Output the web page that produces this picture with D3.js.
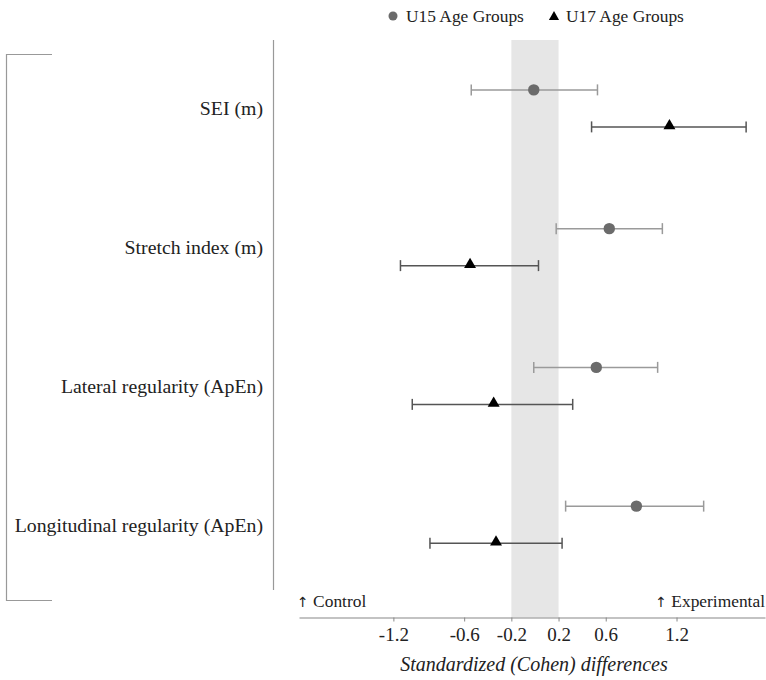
<!DOCTYPE html>
<html><head><meta charset="utf-8">
<script src="https://cdn.jsdelivr.net/npm/d3@7"></script>
<style>body{margin:0;background:#fff}svg{display:block}text{font-family:"Liberation Serif","Times New Roman",serif;fill:#222}</style>
</head><body><svg id="c" width="766" height="680"></svg>
<script>
const categories = ["SEI (m)", "Stretch index (m)", "Lateral regularity (ApEn)", "Longitudinal regularity (ApEn)"];
const u15Value = [-0.01, 0.63, 0.52, 0.86];
const u15Low   = [-0.54, 0.18, -0.01, 0.26];
const u15High  = [0.53, 1.08, 1.04, 1.43];
const u17Value = [1.14, -0.55, -0.35, -0.33];
const u17Low   = [0.48, -1.14, -1.04, -0.89];
const u17High  = [1.79, 0.03, 0.32, 0.23];
const tickValues = [-1.2, -0.6, -0.2, 0.2, 0.6, 1.2];
const trivialBand = [-0.2, 0.2];

const svg = d3.select("#c");
const x = d3.scaleLinear().domain([-2, 1.95]).range([299, 765]);
const y = d3.scaleBand().domain(categories).range([39, 594]);
const off = 18.5;
const axisY = 617.5;

svg.append("rect").attr("x", x(trivialBand[0])).attr("width", x(trivialBand[1]) - x(trivialBand[0]))
  .attr("y", 40).attr("height", axisY - 40).attr("fill", "#e6e6e6");

svg.append("line").attr("x1", 273.5).attr("x2", 273.5).attr("y1", 40).attr("y2", 590)
  .attr("stroke", "#999").attr("stroke-width", 1.2);

svg.append("path").attr("d", "M52,54.5H6.5V600.5H52").attr("fill", "none").attr("stroke", "#999").attr("stroke-width", 1.2);

svg.selectAll("text.cat").data(categories).enter().append("text").attr("class", "cat")
  .attr("x", 263).attr("y", d => y(d) + y.bandwidth() / 2).attr("dy", "0.35em")
  .attr("text-anchor", "end").attr("font-size", 19.8).text(d => d);

function series(lo, hi, dy, barColor) {
  const g = svg.append("g");
  categories.forEach((c, i) => {
    const yy = y(c) + y.bandwidth() / 2 + dy;
    g.append("line").attr("x1", x(lo[i])).attr("x2", x(hi[i])).attr("y1", yy).attr("y2", yy)
      .attr("stroke", barColor).attr("stroke-width", 1.5);
    [lo[i], hi[i]].forEach(v => g.append("line").attr("x1", x(v)).attr("x2", x(v))
      .attr("y1", yy - 5.5).attr("y2", yy + 5.5).attr("stroke", barColor).attr("stroke-width", 1.5));
  });
  return g;
}
const g15 = series(u15Low, u15High, -off, "#9a9a9a");
categories.forEach((c, i) => {
  g15.append("circle").attr("cx", x(u15Value[i])).attr("cy", y(c) + y.bandwidth() / 2 - off).attr("r", 5.7).attr("fill", "#6b6b6b");
});
const g17 = series(u17Low, u17High, off, "#555");
const tri = d3.symbol().type(d3.symbolTriangle).size(62);
categories.forEach((c, i) => {
  g17.append("path").attr("d", tri).attr("transform", `translate(${x(u17Value[i])},${y(c) + y.bandwidth() / 2 + off - 1})`).attr("fill", "#000");
});

const axis = d3.axisBottom(x).tickValues(tickValues).tickSize(4).tickSizeOuter(0).tickFormat(d => d.toFixed(1));
const ag = svg.append("g").attr("transform", `translate(0,${axisY})`).call(axis);
ag.select(".domain").attr("stroke", "#888").attr("stroke-width", 1.2);
ag.selectAll(".tick line").attr("stroke", "#888");
ag.selectAll(".tick text").style("font-size", "19px").attr("dy", "0.85em");

svg.append("text").attr("x", 534).attr("y", 671).attr("text-anchor", "middle").attr("font-size", 20)
  .attr("font-style", "italic").text("Standardized (Cohen) differences");

function arrowLabel(xx, anchor, label) {
  const t = svg.append("text").attr("x", xx).attr("y", 607).attr("text-anchor", anchor).attr("font-size", 17.4);
  t.append("tspan").style("font-family", "'DejaVu Sans', sans-serif").style("font-size", "14px").style("fill", "#222").text("\u2191");
  t.append("tspan").text(" " + label);
}
arrowLabel(297, "start", "Control");
arrowLabel(765, "end", "Experimental");

svg.append("circle").attr("cx", 393).attr("cy", 16).attr("r", 4.5).attr("fill", "#6b6b6b");
svg.append("text").attr("x", 406).attr("y", 22).attr("font-size", 17.4).text("U15 Age Groups");
svg.append("path").attr("d", d3.symbol().type(d3.symbolTriangle).size(45)).attr("transform", "translate(554,17)").attr("fill", "#000");
svg.append("text").attr("x", 566).attr("y", 22).attr("font-size", 17.4).text("U17 Age Groups");
</script></body></html>
